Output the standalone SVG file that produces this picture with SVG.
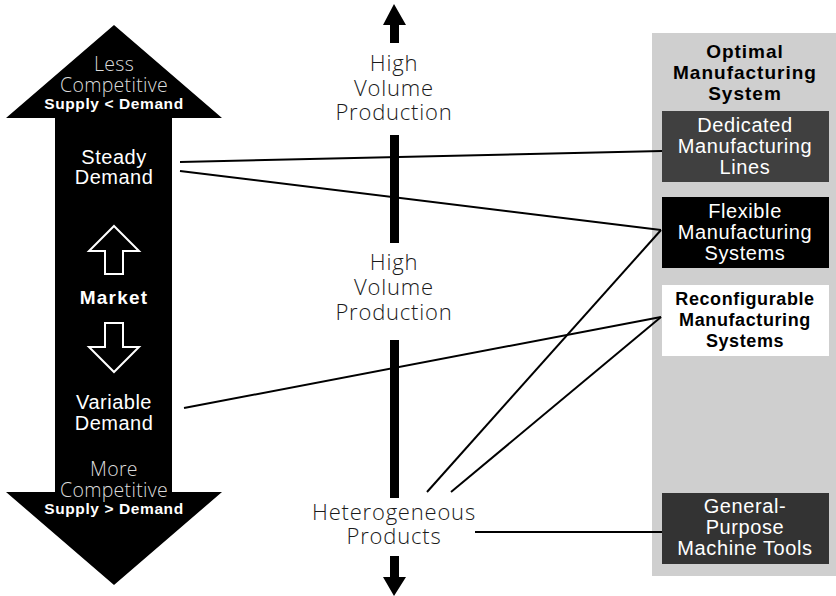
<svg xmlns="http://www.w3.org/2000/svg" width="836" height="596" viewBox="0 0 836 596">
  <style>
    .lt { font-family: "Open Sans", "Liberation Sans", Arial, sans-serif; font-weight: 300; text-anchor: middle; }
    .bd { font-family: "Liberation Sans", Arial, sans-serif; font-weight: bold; text-anchor: middle; }
    .md { font-family: "Liberation Sans", Arial, sans-serif; text-anchor: middle; }
    .axis { font-size: 22px; letter-spacing: 0.8px; fill: #1a1a1a; }
    .side { font-size: 19.5px; letter-spacing: 0.3px; fill: #dcdcdc; }
    .sd { font-size: 15.5px; letter-spacing: 0.6px; fill: #fff; }
    .dem { font-size: 20px; letter-spacing: 0.5px; fill: #fff; }
    .box { font-size: 20px; letter-spacing: 0.6px; fill: #fff; }
    .conn { stroke: #000; stroke-width: 2; fill: none; }
    .outline { fill: #000; stroke: #fff; stroke-width: 2; stroke-linejoin: miter; }
  </style>
  <rect width="836" height="596" fill="#fff"/>

  <!-- market double arrow -->
  <g id="market-arrow">
    <polygon points="114,25 222,118 172,118 172,492 222,492 114,585 6,492 55,492 55,118 6,118" fill="#000"/>
    <text class="lt side" x="114" y="71">Less</text>
    <text class="lt side" x="114" y="92">Competitive</text>
    <text class="bd sd" x="114" y="109">Supply &lt; Demand</text>
    <text class="md dem" x="114" y="164">Steady</text>
    <text class="md dem" x="114" y="184">Demand</text>
    <polygon class="outline" points="114,226 139,251 123,251 123,274 105,274 105,251 89,251"/>
    <text class="bd" x="114" y="304" font-size="19" letter-spacing="1.2" fill="#fff">Market</text>
    <polygon class="outline" points="105,323 123,323 123,347 139,347 114,372 89,347 105,347"/>
    <text class="md dem" x="114" y="409">Variable</text>
    <text class="md dem" x="114" y="430">Demand</text>
    <text class="lt side" x="114" y="476">More</text>
    <text class="lt side" x="114" y="497">Competitive</text>
    <text class="bd sd" x="114" y="514">Supply &gt; Demand</text>
  </g>

  <!-- production axis -->
  <g id="production-axis">
    <polygon points="394,4 406,25 399,25 399,43 390,43 390,25 383,25" fill="#000"/>
    <rect x="390" y="135" width="9" height="108" fill="#000"/>
    <rect x="390" y="340" width="9" height="158" fill="#000"/>
    <polygon points="390,556 399,556 399,577 406,577 394,596 383,577 390,577" fill="#000"/>
  </g>
  <g id="label-high-volume-top">
    <text class="lt axis" x="394" y="71">High</text>
    <text class="lt axis" x="394" y="96">Volume</text>
    <text class="lt axis" x="394" y="120">Production</text>
  </g>
  <g id="label-high-volume-mid">
    <text class="lt axis" x="394" y="270">High</text>
    <text class="lt axis" x="394" y="295">Volume</text>
    <text class="lt axis" x="394" y="320">Production</text>
  </g>
  <g id="label-heterogeneous">
    <text class="lt axis" x="394" y="520">Heterogeneous</text>
    <text class="lt axis" x="394" y="544">Products</text>
  </g>

  <!-- optimal manufacturing system panel -->
  <g id="system-panel">
    <rect x="652" y="33" width="184" height="543" fill="#cfcfcf"/>
    <text class="bd" x="745" y="58" font-size="19" letter-spacing="1" fill="#000">Optimal</text>
    <text class="bd" x="745" y="79" font-size="19" letter-spacing="1" fill="#000">Manufacturing</text>
    <text class="bd" x="745" y="100" font-size="19" letter-spacing="1" fill="#000">System</text>
  </g>
  <g id="dedicated-lines">
    <rect x="662" y="111" width="167" height="71" fill="#404040"/>
    <text class="md box" x="745" y="132">Dedicated</text>
    <text class="md box" x="745" y="153">Manufacturing</text>
    <text class="md box" x="745" y="174">Lines</text>
  </g>
  <g id="flexible-systems">
    <rect x="662" y="197" width="167" height="71" fill="#000"/>
    <text class="md box" x="745" y="218">Flexible</text>
    <text class="md box" x="745" y="239">Manufacturing</text>
    <text class="md box" x="745" y="260">Systems</text>
  </g>
  <g id="reconfigurable-systems">
    <rect x="662" y="285" width="167" height="71" fill="#fff"/>
    <text class="bd" x="745" y="305" font-size="18" letter-spacing="0.6" fill="#000">Reconfigurable</text>
    <text class="bd" x="745" y="326" font-size="18" letter-spacing="0.6" fill="#000">Manufacturing</text>
    <text class="bd" x="745" y="347" font-size="18" letter-spacing="0.6" fill="#000">Systems</text>
  </g>
  <g id="general-purpose-tools">
    <rect x="662" y="493" width="167" height="71" fill="#333"/>
    <text class="md box" x="745" y="513">General-</text>
    <text class="md box" x="745" y="534">Purpose</text>
    <text class="md box" x="745" y="555">Machine Tools</text>
  </g>

  <!-- connectors -->
  <g id="connectors">
    <line class="conn" x1="180" y1="162" x2="662" y2="151"/>
    <line class="conn" x1="180" y1="171" x2="661" y2="230"/>
    <line class="conn" x1="184" y1="408" x2="661" y2="317"/>
    <line class="conn" x1="427" y1="492" x2="661" y2="230"/>
    <line class="conn" x1="451" y1="492" x2="661" y2="317"/>
    <line class="conn" x1="475" y1="532" x2="662" y2="532"/>
  </g>
</svg>
